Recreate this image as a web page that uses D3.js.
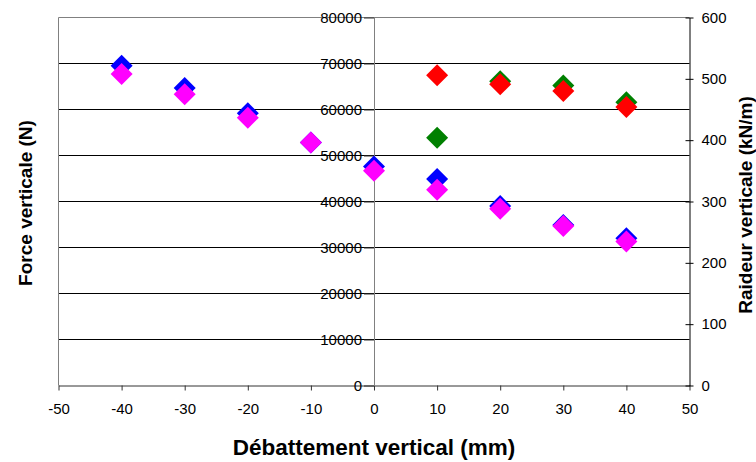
<!DOCTYPE html>
<html>
<head>
<meta charset="utf-8">
<script src="https://cdn.jsdelivr.net/npm/d3@7/dist/d3.min.js"></script>
<style>
html,body{margin:0;padding:0;background:#fff;}
svg{display:block;}
text{font-family:Arial,"Liberation Sans",sans-serif;}
</style>
</head>
<body>
<svg id="chart" width="756" height="462"></svg>
<script>
// ---- data ----
const xBM = [-40, -30, -20, -10, 0, 10, 20, 30, 40];
const blueForce    = [69500, 64650, 59200, 52800, 47600, 44900, 39000, 34900, 32000];
const magentaForce = [67700, 63300, 58200, 52800, 46700, 42550, 38400, 34700, 31300];
const xGR = [10, 20, 30, 40];
const greenStiff = [404, 496, 489, 462];
const redStiff   = [506, 491, 480, 454];
const xTicks = [-50, -40, -30, -20, -10, 0, 10, 20, 30, 40, 50];
const leftTicks = [0, 10000, 20000, 30000, 40000, 50000, 60000, 70000, 80000];
const rightTicks = [0, 100, 200, 300, 400, 500, 600];
const xTitle = "Débattement vertical (mm)";
const leftTitle = "Force verticale (N)";
const rightTitle = "Raideur verticale (kN/m)";

const svg = d3.select("#chart");
const L = 58.5, R = 689.5, T = 17.5, B = 385.5;
const x = d3.scaleLinear().domain([-50, 50]).range([L, R]);
const yL = d3.scaleLinear().domain([0, 80000]).range([B, T]);
const yR = d3.scaleLinear().domain([0, 600]).range([B, T]);
const fmt = d => String(d);

// gridlines
svg.append("g").selectAll("line")
  .data(leftTicks.filter(d => d > 0 && d < 80000))
  .join("line")
  .attr("x1", L).attr("x2", R)
  .attr("y1", d => yL(d)).attr("y2", d => yL(d))
  .attr("stroke", "#000").attr("stroke-width", 1);

// plot border (top, left)
svg.append("path")
  .attr("d", `M${L},${B}V${T}H${R}`)
  .attr("fill", "none").attr("stroke", "#808080").attr("stroke-width", 1);

// x axis
const gx = svg.append("g").attr("transform", `translate(0,${B})`)
  .call(d3.axisBottom(x).tickValues(xTicks).tickSize(5).tickSizeOuter(0).tickFormat(fmt));
gx.select(".domain").attr("stroke", "#333");
gx.selectAll(".tick line").attr("stroke", "#333");
gx.selectAll("text").attr("font-size", 15).attr("fill", "#000").attr("dy", "0.71em").attr("y", 18);

// left axis at x = 0
const gl = svg.append("g").attr("transform", `translate(${x(0)},0)`)
  .call(d3.axisLeft(yL).tickValues(leftTicks).tickSize(10).tickSizeOuter(0).tickFormat(fmt));
gl.select(".domain").attr("stroke", "#808080");
gl.selectAll(".tick line").attr("stroke", "#333");
gl.selectAll("text").attr("font-size", 15).attr("fill", "#000").attr("x", -12);

// right axis
const gr = svg.append("g").attr("transform", `translate(${R},0)`)
  .call(d3.axisRight(yR).tickValues(rightTicks).tickSize(4).tickSizeOuter(0).tickFormat(fmt));
gr.select(".domain").attr("stroke", "#000");
gr.selectAll(".tick line").attr("stroke", "#000").attr("x1", -4);
gr.selectAll("text").attr("font-size", 15).attr("fill", "#000").attr("x", 12);

// markers
const diamond = "M0,-11L11,0L0,11L-11,0Z";
function series(xs, ys, scale, color) {
  svg.append("g").selectAll("path")
    .data(xs.map((d, i) => [d, ys[i]]))
    .join("path")
    .attr("d", diamond)
    .attr("transform", d => `translate(${x(d[0])},${scale(d[1])})`)
    .attr("fill", color);
}
series(xBM, blueForce, yL, "#0000ff");
series(xBM, magentaForce, yL, "#ff00ff");
series(xGR, greenStiff, yR, "#008000");
series(xGR, redStiff, yR, "#ff0000");

// titles
svg.append("text").attr("x", 374).attr("y", 455).attr("text-anchor", "middle")
  .attr("font-size", 22.5).attr("font-weight", "bold").text(xTitle);
svg.append("text").attr("transform", "translate(32,203) rotate(-90)").attr("text-anchor", "middle")
  .attr("font-size", 19).attr("font-weight", "bold").text(leftTitle);
svg.append("text").attr("transform", "translate(752,205) rotate(-90)").attr("text-anchor", "middle")
  .attr("font-size", 19).attr("font-weight", "bold").text(rightTitle);
</script>
</body>
</html>
